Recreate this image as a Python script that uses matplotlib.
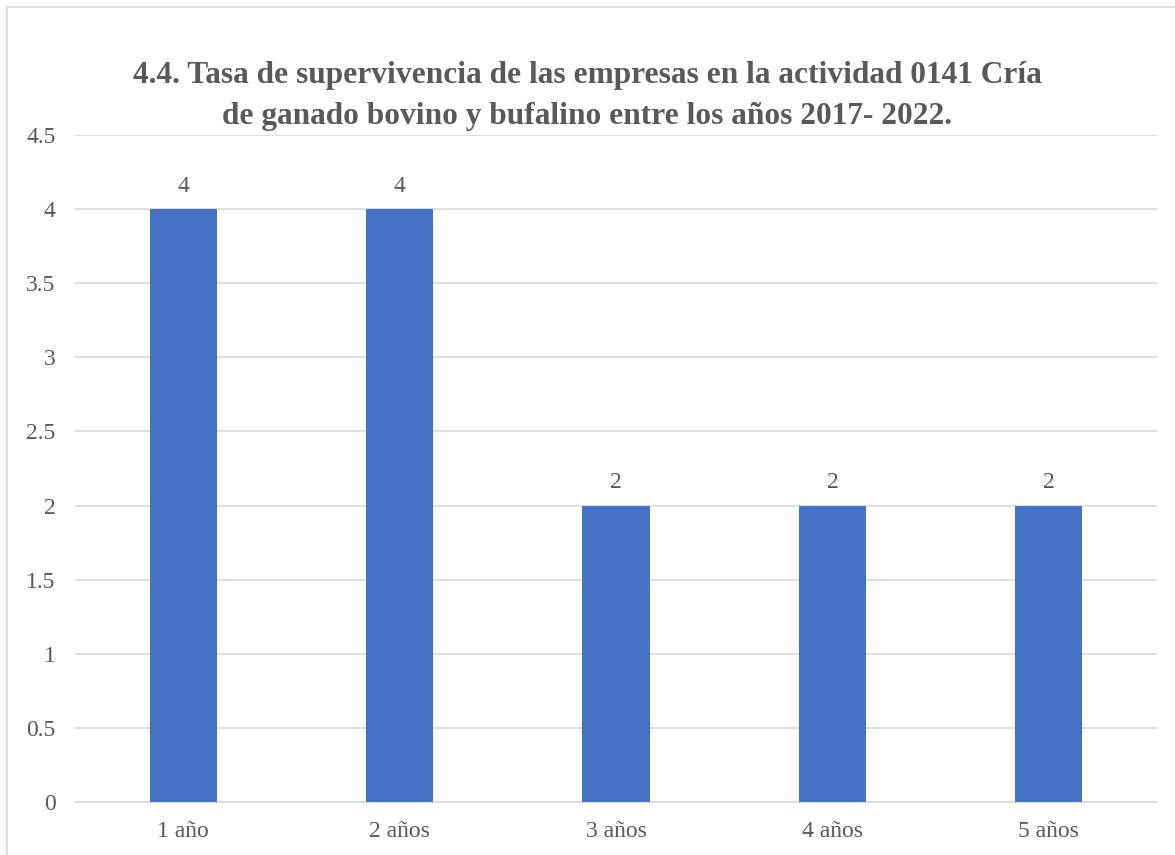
import matplotlib
matplotlib.use("Agg")
import matplotlib.pyplot as plt
from matplotlib.patches import Rectangle

# --- Data ---
categories = ["1 año", "2 años", "3 años", "4 años", "5 años"]
values = [4, 4, 2, 2, 2]
yticks = [0, 0.5, 1, 1.5, 2, 2.5, 3, 3.5, 4, 4.5]
ytick_labels = ["0", "0.5", "1", "1.5", "2", "2.5", "3", "3.5", "4", "4.5"]
title = ("4.4. Tasa de supervivencia de las empresas en la actividad 0141 Cría\n"
         "de ganado bovino y bufalino entre los años 2017- 2022.")

# --- Style ---
bar_color = "#4472C4"
text_color = "#595959"
grid_color = "#D9D9D9"
plt.rcParams["font.family"] = ["Liberation Serif", "DejaVu Serif"]

fig = plt.figure(figsize=(11.75, 8.55), dpi=100)
fig.patches.append(Rectangle((7 / 1175, -0.1), 1.2, 1 - 7 / 855 + 0.1,
                             transform=fig.transFigure, fill=False,
                             edgecolor=grid_color, linewidth=1.2))

ax = fig.add_axes([75 / 1175, 1 - 802 / 855, 1082 / 1175, 667 / 855])
x = range(len(categories))
bars = ax.bar(x, values, width=0.31, color=bar_color, zorder=3)

for b, v in zip(bars, values):
    ax.annotate(f"{v}", (b.get_x() + b.get_width() / 2, v), xytext=(0, 9),
                textcoords="offset points", ha="center", va="bottom",
                fontsize=17, color=text_color)

ax.set_xlim(-0.5, len(categories) - 0.5)
ax.set_ylim(0, 4.5)
ax.set_yticks(yticks)
ax.set_yticklabels(ytick_labels)
ax.set_xticks(list(x))
ax.set_xticklabels(categories)
ax.tick_params(axis="both", length=0, labelsize=17, labelcolor=text_color)
ax.tick_params(axis="y", pad=14)
ax.tick_params(axis="x", pad=14)
ax.yaxis.grid(True, color=grid_color, linewidth=1.2, zorder=0)
for s in ["top", "right", "left"]:
    ax.spines[s].set_visible(False)
ax.spines["bottom"].set_color(grid_color)
ax.spines["bottom"].set_linewidth(1.2)

fig.text(0.5, 1 - 96 / 855, title, ha="center", va="center", fontsize=22.6,
         fontweight="bold", color=text_color, linespacing=1.52)

fig.savefig("out.png", dpi=100)
